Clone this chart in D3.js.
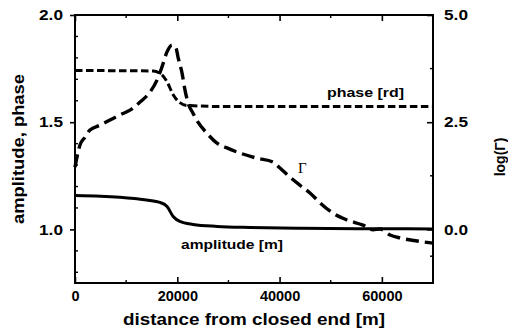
<!DOCTYPE html>
<html>
<head>
<meta charset="utf-8">
<script src="https://cdn.jsdelivr.net/npm/d3@7"></script>
<style>
  html, body { margin: 0; padding: 0; background: #fff; }
  svg { display: block; }
  text { font-family: "Liberation Sans", Arial, Helvetica, sans-serif; font-weight: bold; fill: #000; }
</style>
</head>
<body>
<svg id="chart" width="508" height="334"></svg>
<script>
// distance along the channel [m]
const distAmplitude = [0, 5000, 11600, 16600, 18000, 19200, 20500, 23100, 27800, 34300, 44000, 60000, 70000];
const amplitude     = [1.158, 1.155, 1.144, 1.126, 1.107, 1.06, 1.037, 1.023, 1.014, 1.009, 1.005, 1.003, 1.002];

const distPhase = [0, 15300, 17000, 18000, 19200, 20500, 21900, 30000, 70000];
const phase     = [1.741, 1.739, 1.721, 1.688, 1.628, 1.591, 1.578, 1.573, 1.573];

const distGamma = [0, 980, 1960, 2930, 4890, 6840, 8800, 10750, 12710, 14660, 16030, 17010, 17990, 18970,
                   19750, 20140, 20920, 21510, 22100, 23070, 24050, 25810, 27770, 29720, 32270, 35590,
                   38720, 40080, 42040, 44000, 45950, 47910, 50450, 53190, 56320, 58270, 59640, 61600,
                   63560, 66880, 70000];
const logGamma  = [1.45, 1.97, 2.15, 2.32, 2.43, 2.55, 2.67, 2.78, 2.97, 3.20, 3.48, 3.79, 4.14, 4.30,
                   4.23, 4.02, 3.65, 3.25, 2.95, 2.71, 2.50, 2.24, 2.01, 1.90, 1.78, 1.66,
                   1.57, 1.43, 1.22, 1.03, 0.85, 0.62, 0.38, 0.22, 0.10, -0.01, 0.01, -0.13,
                   -0.20, -0.27, -0.32];

// tick values
const xMajorTicks = [0, 20000, 40000, 60000];
const xMinorTicks = [10000, 30000, 50000, 70000];
const leftMajorTicks = [1.0, 1.5, 2.0];
const leftMinorTicks = [0.8, 0.9, 1.1, 1.2, 1.3, 1.4, 1.6, 1.7, 1.8, 1.9];
const rightMajorTicks = [0.0, 2.5, 5.0];
const rightMinorTicks = [-0.625, 1.25, 3.75];

const svg = d3.select("#chart");
const L = 75, R = 433, T = 15, B = 283;

const x  = d3.scaleLinear().domain([0, 70000]).range([L, R]);
const yL = d3.scaleLinear().domain([0.75, 2.0]).range([B, T]);
const yR = d3.scaleLinear().domain([-1.25, 5.0]).range([B, T]);

const fmt1 = d3.format(".1f");

// bottom axis: ticks point inward
const gB = svg.append("g").attr("transform", `translate(0,${B})`)
  .call(d3.axisBottom(x).tickValues(xMajorTicks).tickFormat(d3.format("d")).tickSize(-6).tickPadding(8));
// top axis: ticks only
const gT = svg.append("g").attr("transform", `translate(0,${T})`)
  .call(d3.axisTop(x).tickValues(xMajorTicks).tickFormat("").tickSize(-6));
// left axis: major ticks outward
const gL = svg.append("g").attr("transform", `translate(${L},0)`)
  .call(d3.axisLeft(yL).tickValues(leftMajorTicks).tickFormat(fmt1).tickSize(5).tickPadding(7));
// right axis: ticks inward
const gR = svg.append("g").attr("transform", `translate(${R},0)`)
  .call(d3.axisRight(yR).tickValues(rightMajorTicks).tickFormat(fmt1).tickSize(-6).tickPadding(11));

[gB, gT, gL, gR].forEach(g => {
  g.select(".domain").remove();
  g.selectAll(".tick line").attr("stroke", "#000").attr("stroke-width", 1.6);
  g.selectAll(".tick text").attr("font-size", 14.5).attr("font-family", null).attr("fill", "#000");
});
gB.selectAll(".tick text").attr("dy", "0.72em");
gL.selectAll(".tick text").attr("textLength", 24).attr("lengthAdjust", "spacingAndGlyphs");
gR.selectAll(".tick text").attr("textLength", 24).attr("lengthAdjust", "spacingAndGlyphs");

// minor ticks
const minor = svg.append("g").attr("stroke", "#000").attr("stroke-width", 1.4);
xMinorTicks.forEach(v => {
  minor.append("line").attr("x1", x(v)).attr("x2", x(v)).attr("y1", B).attr("y2", B - 3);
  minor.append("line").attr("x1", x(v)).attr("x2", x(v)).attr("y1", T).attr("y2", T + 3);
});
leftMinorTicks.forEach(v => {
  minor.append("line").attr("x1", L).attr("x2", L + 3).attr("y1", yL(v)).attr("y2", yL(v));
});
rightMinorTicks.forEach(v => {
  minor.append("line").attr("x1", R).attr("x2", R - 3).attr("y1", yR(v)).attr("y2", yR(v));
});

// frame
svg.append("rect")
  .attr("x", L).attr("y", T).attr("width", R - L).attr("height", B - T)
  .attr("fill", "none").attr("stroke", "#000").attr("stroke-width", 2);

// curves
const lineAmp = d3.line().x((d, i) => x(distAmplitude[i])).y(d => yL(d)).curve(d3.curveMonotoneX);
const linePhase = d3.line().x((d, i) => x(distPhase[i])).y(d => yL(d)).curve(d3.curveMonotoneX);
const lineGamma = d3.line().x((d, i) => x(distGamma[i])).y(d => yR(d)).curve(d3.curveMonotoneX);

svg.append("path").datum(amplitude).attr("d", lineAmp)
  .attr("fill", "none").attr("stroke", "#000").attr("stroke-width", 3);
svg.append("path").datum(phase).attr("d", linePhase)
  .attr("fill", "none").attr("stroke", "#000").attr("stroke-width", 3)
  .attr("stroke-dasharray", "7.5,3.5");
svg.append("path").datum(logGamma).attr("d", lineGamma)
  .attr("fill", "none").attr("stroke", "#000").attr("stroke-width", 3.4)
  .attr("stroke-dasharray", "13,6");

// curve labels
svg.append("text").attr("x", 327).attr("y", 97).attr("font-size", 13)
  .attr("textLength", 77).attr("lengthAdjust", "spacingAndGlyphs").text("phase [rd]");
svg.append("text").attr("x", 181).attr("y", 249).attr("font-size", 13)
  .attr("textLength", 102).attr("lengthAdjust", "spacingAndGlyphs").text("amplitude [m]");
svg.append("text").attr("x", 298).attr("y", 173).attr("font-size", 15)
  .style("font-family", "'Liberation Serif', 'Times New Roman', serif").style("font-weight", "normal")
  .text("Γ");

// axis titles
svg.append("text").attr("x", (L + R) / 2).attr("y", 325).attr("text-anchor", "middle")
  .attr("font-size", 16.5).attr("textLength", 262).attr("lengthAdjust", "spacingAndGlyphs")
  .text("distance from closed end [m]");
svg.append("text").attr("transform", `translate(24,${(T + B) / 2}) rotate(-90)`)
  .attr("text-anchor", "middle").attr("font-size", 16.5)
  .attr("textLength", 150).attr("lengthAdjust", "spacingAndGlyphs")
  .text("amplitude, phase");
svg.append("text").attr("transform", `translate(505,157) rotate(-90)`)
  .attr("text-anchor", "middle").attr("font-size", 14)
  .text("log(Γ)");
</script>
</body>
</html>
